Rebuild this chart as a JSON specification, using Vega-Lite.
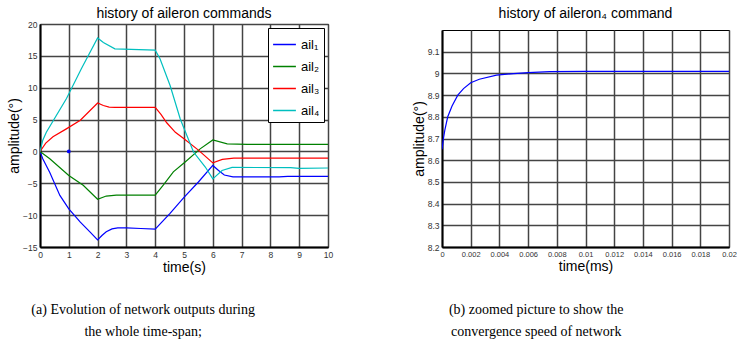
{
  "$schema": "https://vega.github.io/schema/vega-lite/v6.json",
  "background": "white",
  "padding": {"left": 7, "top": 5, "right": 0, "bottom": 0},
  "spacing": 77,
  "columns": 2,
  "align": "none",
  "config": {
    "font": "Liberation Sans",
    "concat": {"spacing": 0},
    "view": {"stroke": "black", "strokeWidth": 1},
    "axis": {
      "grid": true,
      "gridColor": "#444444",
      "gridWidth": 1.5,
      "domainColor": "black",
      "domainWidth": 2,
      "ticks": false,
      "labelFont": "Liberation Sans",
      "labelFontSize": 8.5,
      "labelColor": "#333333",
      "labelPadding": 3,
      "labelOverlap": false,
      "labelFlush": false,
      "titleFont": "Liberation Sans",
      "titleFontSize": 14,
      "titleFontWeight": "normal",
      "titleColor": "black"
    },
    "title": {"font": "Liberation Sans", "fontSize": 14, "fontWeight": "normal", "color": "black"}
  },
  "datasets": {
    "commands": [
      {"series": "ail₁", "t": 0, "v": 0}, {"series": "ail₁", "t": 0.1, "v": -1.2}, {"series": "ail₁", "t": 0.34, "v": -3.3},
      {"series": "ail₁", "t": 0.69, "v": -6.9}, {"series": "ail₁", "t": 1.0, "v": -9.0}, {"series": "ail₁", "t": 1.4, "v": -11.1},
      {"series": "ail₁", "t": 1.75, "v": -12.7}, {"series": "ail₁", "t": 2.0, "v": -13.9}, {"series": "ail₁", "t": 2.15, "v": -13.2},
      {"series": "ail₁", "t": 2.3, "v": -12.6}, {"series": "ail₁", "t": 2.5, "v": -12.15}, {"series": "ail₁", "t": 2.7, "v": -12.0},
      {"series": "ail₁", "t": 3.0, "v": -12.0}, {"series": "ail₁", "t": 3.5, "v": -12.1}, {"series": "ail₁", "t": 4.0, "v": -12.2},
      {"series": "ail₁", "t": 4.5, "v": -9.8}, {"series": "ail₁", "t": 5.0, "v": -7.2}, {"series": "ail₁", "t": 5.5, "v": -4.8},
      {"series": "ail₁", "t": 6.0, "v": -2.2}, {"series": "ail₁", "t": 6.2, "v": -3.0}, {"series": "ail₁", "t": 6.4, "v": -3.7},
      {"series": "ail₁", "t": 6.7, "v": -4.0}, {"series": "ail₁", "t": 8.3, "v": -4.0}, {"series": "ail₁", "t": 8.6, "v": -3.93},
      {"series": "ail₁", "t": 10, "v": -3.93},

      {"series": "ail₂", "t": 0, "v": 0}, {"series": "ail₂", "t": 0.34, "v": -1.15}, {"series": "ail₂", "t": 1.0, "v": -3.77},
      {"series": "ail₂", "t": 1.5, "v": -5.3}, {"series": "ail₂", "t": 2.0, "v": -7.5}, {"series": "ail₂", "t": 2.3, "v": -7.0},
      {"series": "ail₂", "t": 2.65, "v": -6.86}, {"series": "ail₂", "t": 4.0, "v": -6.85}, {"series": "ail₂", "t": 4.28, "v": -5.3},
      {"series": "ail₂", "t": 4.63, "v": -3.2}, {"series": "ail₂", "t": 5.04, "v": -1.67}, {"series": "ail₂", "t": 5.56, "v": 0.4},
      {"series": "ail₂", "t": 6.0, "v": 1.8}, {"series": "ail₂", "t": 6.5, "v": 1.2}, {"series": "ail₂", "t": 7.2, "v": 1.1},
      {"series": "ail₂", "t": 10, "v": 1.1},

      {"series": "ail₃", "t": 0, "v": 0}, {"series": "ail₃", "t": 0.2, "v": 1.3}, {"series": "ail₃", "t": 0.45, "v": 2.3},
      {"series": "ail₃", "t": 0.9, "v": 3.5}, {"series": "ail₃", "t": 1.4, "v": 4.9}, {"series": "ail₃", "t": 2.0, "v": 7.6},
      {"series": "ail₃", "t": 2.2, "v": 7.2}, {"series": "ail₃", "t": 2.4, "v": 6.95}, {"series": "ail₃", "t": 2.6, "v": 6.9},
      {"series": "ail₃", "t": 4.0, "v": 6.9}, {"series": "ail₃", "t": 4.2, "v": 5.8}, {"series": "ail₃", "t": 4.4, "v": 4.5},
      {"series": "ail₃", "t": 4.7, "v": 3.0}, {"series": "ail₃", "t": 5.0, "v": 2.0}, {"series": "ail₃", "t": 5.5, "v": 0.2},
      {"series": "ail₃", "t": 6.0, "v": -1.8}, {"series": "ail₃", "t": 6.33, "v": -1.26}, {"series": "ail₃", "t": 6.73, "v": -1.05},
      {"series": "ail₃", "t": 10, "v": -1.05},

      {"series": "ail₄", "t": 0, "v": 0}, {"series": "ail₄", "t": 0.1, "v": 1.8}, {"series": "ail₄", "t": 0.22, "v": 3.0},
      {"series": "ail₄", "t": 0.92, "v": 8.3}, {"series": "ail₄", "t": 1.44, "v": 13.0}, {"series": "ail₄", "t": 2.0, "v": 17.8},
      {"series": "ail₄", "t": 2.2, "v": 17.1}, {"series": "ail₄", "t": 2.6, "v": 16.1}, {"series": "ail₄", "t": 4.0, "v": 15.9},
      {"series": "ail₄", "t": 4.17, "v": 14.5}, {"series": "ail₄", "t": 4.52, "v": 10.3}, {"series": "ail₄", "t": 4.87, "v": 5.1},
      {"series": "ail₄", "t": 5.33, "v": -0.1}, {"series": "ail₄", "t": 5.74, "v": -2.45}, {"series": "ail₄", "t": 6.0, "v": -4.3},
      {"series": "ail₄", "t": 6.32, "v": -3.0}, {"series": "ail₄", "t": 6.67, "v": -2.5}, {"series": "ail₄", "t": 8.7, "v": -2.55},
      {"series": "ail₄", "t": 9.0, "v": -2.65}, {"series": "ail₄", "t": 10, "v": -2.6},

      {"series": "marker", "t": 1, "v": 0}
    ],
    "ail4zoom": [
      {"t": 0, "v": 8.65}, {"t": 0.0001, "v": 8.7}, {"t": 0.0002, "v": 8.74}, {"t": 0.0004, "v": 8.8},
      {"t": 0.0007, "v": 8.85}, {"t": 0.0011, "v": 8.9}, {"t": 0.0015, "v": 8.93}, {"t": 0.002, "v": 8.957},
      {"t": 0.0026, "v": 8.973}, {"t": 0.0038, "v": 8.992}, {"t": 0.005, "v": 8.999}, {"t": 0.006, "v": 9.004},
      {"t": 0.0075, "v": 9.008}, {"t": 0.01, "v": 9.009}, {"t": 0.02, "v": 9.009}
    ],
    "empty": [{}]
  },
  "concat": [
    {
      "title": {
        "text": ["(a) Evolution of network outputs during", "the whole time-span;"],
        "orient": "bottom",
        "anchor": "middle",
        "font": "Liberation Serif",
        "fontSize": 14,
        "lineHeight": 22,
        "dx": -27,
        "offset": 28
      },
      "spacing": 0,
      "resolve": {"scale": {"color": "independent"}, "legend": {"color": "independent"}},
      "vconcat": [
        {
          "width": 288,
          "height": 1,
          "view": {"stroke": null},
          "data": {"name": "empty"},
          "mark": {"type": "point", "opacity": 0, "size": 1},
          "encoding": {}
        },
        {
          "width": 288,
          "height": 223,
          "title": {"text": "history of aileron commands", "offset": -1},
          "data": {"name": "commands"},
          "encoding": {
            "x": {
              "field": "t", "type": "quantitative", "title": "time(s)",
              "scale": {"domain": [0, 10], "nice": false},
              "axis": {"values": [0, 1, 2, 3, 4, 5, 6, 7, 8, 9, 10], "titlePadding": 2, "labelOverlap": false}
            },
            "y": {
              "field": "v", "type": "quantitative", "title": "amplitude(°)",
              "scale": {"domain": [-15, 20], "nice": false},
              "axis": {"values": [-15, -10, -5, 0, 5, 10, 15, 20], "titlePadding": 1, "labelOverlap": false}
            }
          },
          "layer": [
            {
              "transform": [{"filter": "datum.series !== 'marker'"}],
              "mark": {"type": "line", "strokeWidth": 1.2, "clip": true},
              "encoding": {
                "color": {
                  "field": "series", "type": "nominal",
                  "scale": {"domain": ["ail₁", "ail₂", "ail₃", "ail₄"], "range": ["#0000ff", "#008000", "#ff0000", "#00bfbf"]},
                  "legend": {
                    "orient": "top-right",
                    "offset": 4,
                    "strokeColor": "black",
                    "fillColor": "white",
                    "padding": 4,
                    "title": null,
                    "labelFont": "Liberation Sans",
                    "labelFontSize": 13,
                    "labelColor": "black",
                    "symbolType": "stroke",
                    "symbolSize": 520,
                    "symbolStrokeWidth": 1.5,
                    "rowPadding": 2
                  }
                }
              }
            },
            {
              "transform": [{"filter": "datum.series === 'marker'"}],
              "mark": {"type": "point", "filled": true, "color": "#0000ff", "size": 14, "opacity": 1}
            }
          ]
        }
      ]
    },
    {
      "title": {
        "text": ["(b) zoomed picture to show the", "convergence speed of network"],
        "orient": "bottom",
        "anchor": "middle",
        "font": "Liberation Serif",
        "fontSize": 14,
        "lineHeight": 22,
        "dx": -38,
        "offset": 29
      },
      "spacing": 0,
      "vconcat": [
        {
          "width": 287,
          "height": 1,
          "view": {"stroke": null},
          "data": {"name": "empty"},
          "mark": {"type": "point", "opacity": 0, "size": 1},
          "encoding": {}
        },
        {
          "width": 287,
          "height": 217,
          "title": {"text": "history of aileron₄ command", "offset": 9},
          "data": {"name": "ail4zoom"},
          "mark": {"type": "line", "strokeWidth": 1.2, "color": "#0000ff", "clip": true},
          "encoding": {
            "x": {
              "field": "t", "type": "quantitative", "title": "time(ms)",
              "scale": {"domain": [0, 0.02], "nice": false},
              "axis": {"values": [0, 0.002, 0.004, 0.006, 0.008, 0.01, 0.012, 0.014, 0.016, 0.018, 0.02], "format": "~g", "labelFontSize": 7.5, "titlePadding": 2, "labelOverlap": false}
            },
            "y": {
              "field": "v", "type": "quantitative", "title": "amplitude(°)",
              "scale": {"domain": [8.2, 9.2], "nice": false},
              "axis": {"values": [8.2, 8.3, 8.4, 8.5, 8.6, 8.7, 8.8, 8.9, 9, 9.1], "format": "~g", "titlePadding": 1, "labelOverlap": false}
            }
          }
        }
      ]
    }
  ]
}
